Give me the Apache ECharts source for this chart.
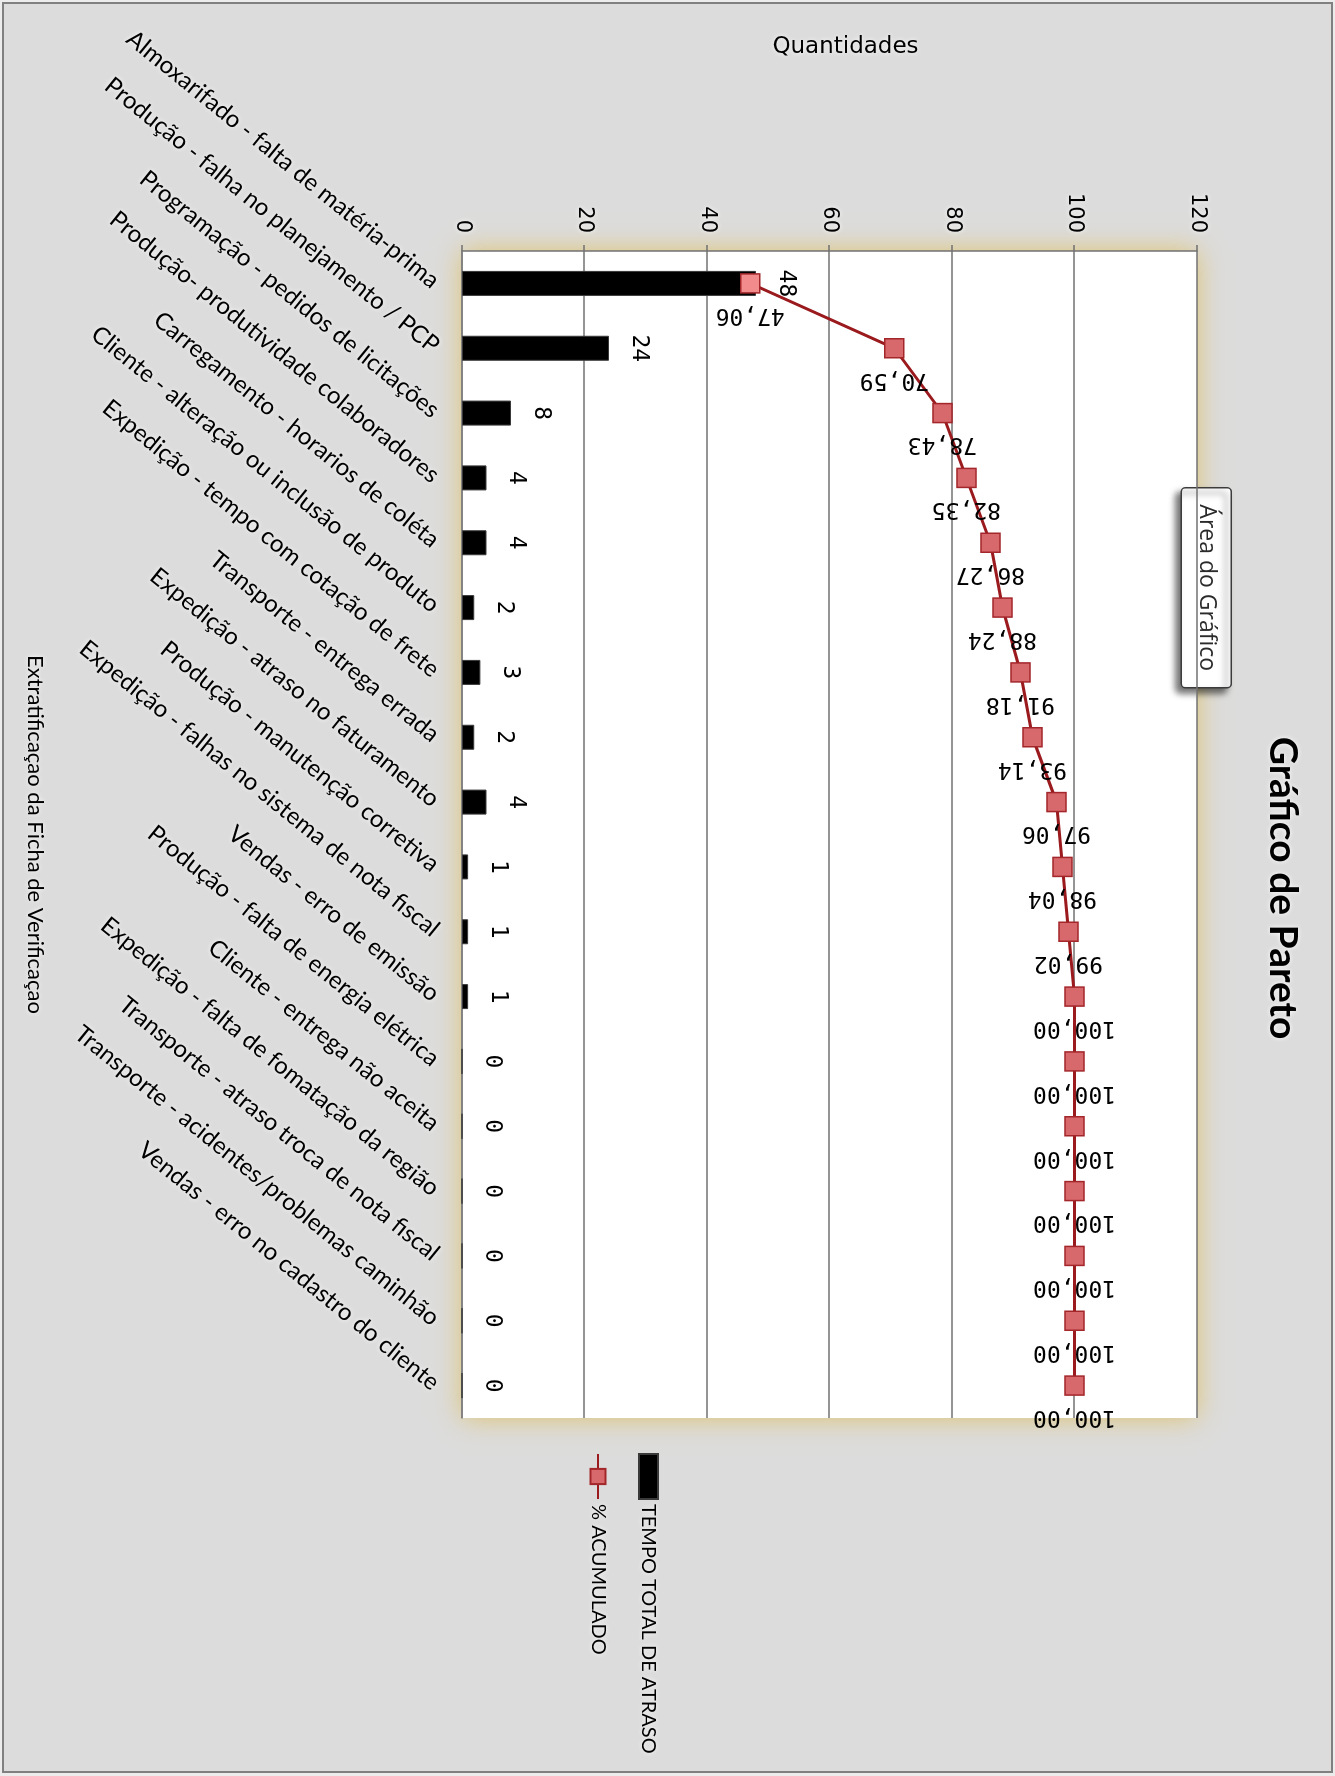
<!DOCTYPE html>
<html>
<head>
<meta charset="utf-8">
<script src="https://cdn.jsdelivr.net/npm/echarts@6/dist/echarts.min.js"></script>
<style>
  html, body { margin: 0; padding: 0; width: 1335px; height: 1776px; overflow: hidden; background: #ececec; }
  /* The chart is laid out landscape and turned a quarter turn clockwise onto the page */
  #chart {
    position: absolute; left: 0; top: 0;
    width: 1776px; height: 1335px;
    transform-origin: 0 0;
    transform: translate(1335px, 0) rotate(90deg);
  }
</style>
</head>
<body>
<div id="chart"></div>
<script>
// Delay causes (stratified from the verification sheet)
const categories = [
  'Almoxarifado - falta de matéria-prima',
  'Produção - falha no planejamento / PCP',
  'Programação - pedidos de licitações',
  'Produção- produtividade colaboradores',
  'Carregamento - horarios de coléta',
  'Cliente - alteração ou inclusão de produto',
  'Expedição - tempo com cotação de frete',
  'Transporte - entrega errada',
  'Expedição - atraso no faturamento',
  'Produção - manutenção corretiva',
  'Expedição - falhas no sistema de nota fiscal',
  'Vendas - erro de emissão',
  'Produção - falta de energia elétrica',
  'Cliente - entrega não aceita',
  'Expedição - falta de fomatação da região',
  'Transporte - atraso troca de nota fiscal',
  'Transporte - acidentes/problemas caminhão',
  'Vendas - erro no cadastro do cliente'
];

// TEMPO TOTAL DE ATRASO per cause
const delayTotals = [48, 24, 8, 4, 4, 2, 3, 2, 4, 1, 1, 1, 0, 0, 0, 0, 0, 0];

// % ACUMULADO as printed on the chart
const cumulativePct = [47.06, 70.59, 78.43, 82.35, 86.27, 88.24, 91.18, 93.14, 97.06, 98.04, 99.02, 100.00, 100.00, 100.00, 100.00, 100.00, 100.00, 100.00];

const valueTicks = [0, 20, 40, 60, 80, 100, 120];

const seriesNames = ['TEMPO TOTAL DE ATRASO', '% ACUMULADO'];

const halo = { textShadowColor: '#ffffff', textShadowBlur: 5 };

const chart = echarts.init(document.getElementById('chart'), null, { width: 1776, height: 1335, renderer: 'canvas' });

const option = {
  backgroundColor: '#ececec',
  animation: false,
  title: {
    text: 'Gráfico de Pareto',
    left: 'center',
    top: 28,
    textStyle: Object.assign({ fontFamily: 'Lato', fontWeight: 'bold', fontSize: 39, color: '#000' }, halo)
  },
  legend: {
    orient: 'vertical',
    left: 1448,
    top: 671,
    itemWidth: 45,
    itemHeight: 19,
    itemGap: 30,
    data: [
      { name: seriesNames[0], icon: 'rect' },
      { name: seriesNames[1] }
    ],
    textStyle: Object.assign({ fontFamily: 'Lato', fontSize: 20, color: '#000' }, halo)
  },
  grid: {
    show: true,
    left: 251,
    right: 358,
    top: 138,
    height: 735,
    backgroundColor: '#ffffff',
    borderWidth: 0,
    shadowBlur: 26,
    shadowColor: 'rgba(222, 194, 110, 1)',
    containLabel: false
  },
  xAxis: {
    type: 'category',
    data: categories,
    name: 'Extratificaçao da Ficha de Verificaçao',
    nameLocation: 'middle',
    nameGap: 416,
    nameTextStyle: Object.assign({ fontFamily: 'Lato', fontSize: 22, color: '#000' }, halo),
    axisLine: { show: true, lineStyle: { color: '#808080', width: 1.5 } },
    axisTick: { show: false },
    axisLabel: Object.assign({
      interval: 0,
      rotate: 51,
      margin: 26,
      fontFamily: 'Lato',
      fontSize: 24,
      color: '#000'
    }, halo)
  },
  yAxis: {
    type: 'value',
    min: valueTicks[0],
    max: valueTicks[valueTicks.length - 1],
    interval: valueTicks[1] - valueTicks[0],
    name: 'Quantidades',
    nameLocation: 'middle',
    nameRotate: 90,
    nameGap: 192,
    nameTextStyle: Object.assign({ fontFamily: 'DejaVu Sans', fontSize: 23, color: '#000', padding: [0, 0, 0, 32] }, halo),
    axisLine: { show: true, lineStyle: { color: '#707070', width: 1.5 } },
    axisTick: { show: true, length: 6, inside: false, lineStyle: { color: '#707070', width: 1.5 } },
    axisLabel: Object.assign({
      margin: 18,
      fontFamily: 'DejaVu Sans',
      fontSize: 21,
      color: '#000'
    }, halo),
    splitLine: { show: true, lineStyle: { color: '#727272', width: 1.5 } }
  },
  series: [
    {
      name: seriesNames[0],
      type: 'bar',
      data: delayTotals,
      barWidth: 25,
      itemStyle: { color: '#000000', borderColor: '#3a3a3a', borderWidth: 1 },
      label: {
        show: true,
        position: 'top',
        distance: 18,
        fontFamily: 'DejaVu Sans Mono',
        fontSize: 23,
        color: '#000'
      },
      z: 2
    },
    {
      name: seriesNames[1],
      type: 'line',
      data: cumulativePct.map((v, i) => i === 0 ? { value: v, itemStyle: { color: '#f28b8b' } } : v),
      symbol: 'rect',
      symbolSize: 19,
      lineStyle: { color: '#9a1a1e', width: 3 },
      itemStyle: { color: '#d7686b', borderColor: '#a3262a', borderWidth: 1.5 },
      label: {
        show: true,
        position: 'right',
        distance: 21,
        rotate: -90,
        align: 'center',
        verticalAlign: 'middle',
        fontFamily: 'DejaVu Sans Mono',
        fontSize: 23,
        color: '#000',
        formatter: p => p.value.toFixed(2).replace('.', ',')
      },
      z: 3
    }
  ],
  graphic: [
    {
      type: 'rect',
      z: -10,
      silent: true,
      shape: { x: 3, y: 3, width: 1769, height: 1329 },
      style: { fill: '#dcdcdc', stroke: '#808080', lineWidth: 2 }
    },
    {
      type: 'group',
      left: 487,
      top: 103,
      z: 100,
      children: [
        {
          type: 'rect',
          shape: { x: 0, y: 0, width: 200, height: 50, r: 4 },
          style: {
            fill: '#ffffff', stroke: '#3c3c3c', lineWidth: 1.5,
            shadowBlur: 6, shadowOffsetX: 5, shadowOffsetY: 5, shadowColor: 'rgba(0,0,0,0.55)'
          }
        },
        {
          type: 'text',
          x: 100,
          y: 25,
          style: {
            text: 'Área do Gráfico',
            font: '23px "Open Sans"',
            fill: '#2b2b2b',
            align: 'center',
            verticalAlign: 'middle'
          }
        }
      ]
    }
  ]
};

chart.setOption(option);
</script>
</body>
</html>
